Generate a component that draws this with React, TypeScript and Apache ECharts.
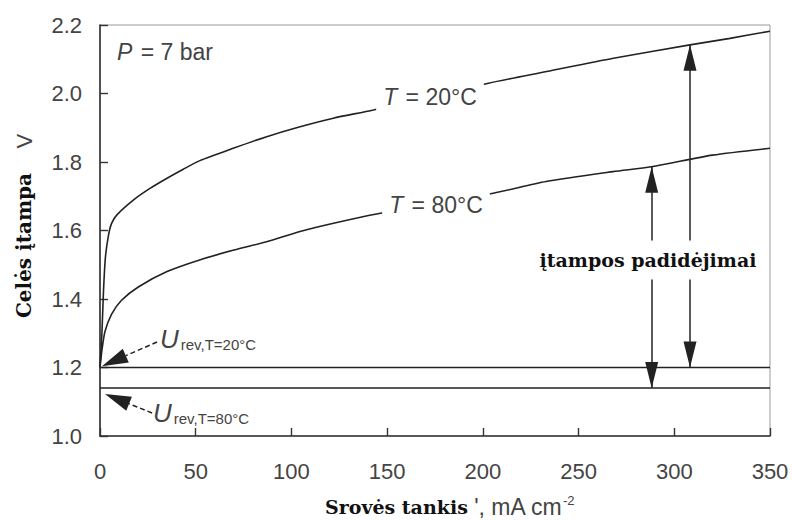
import React, { useEffect, useRef } from 'react';
import * as echarts from 'echarts';

// Current density (mA cm^-2) and cell voltage (V)
const currentDensity20 = [0, 1, 1.8, 2.8, 4.4, 6, 8.7, 17.4, 26.1, 34.8, 43.5, 52.2, 69.6, 87.1, 104.5, 121.9, 142.8, 202.9, 233.3, 268.2, 308.2, 329.1, 350];
const voltage20 = [1.2, 1.3, 1.42, 1.52, 1.585, 1.62, 1.645, 1.689, 1.723, 1.752, 1.779, 1.804, 1.84, 1.874, 1.903, 1.928, 1.952, 2.03, 2.064, 2.103, 2.142, 2.161, 2.182];
const currentDensity80 = [0, 1, 2.6, 6, 11, 20, 35, 52, 70, 87, 104.5, 122, 144.5, 205.5, 233, 268, 288, 320, 350];
const voltage80 = [1.2, 1.25, 1.305, 1.355, 1.395, 1.435, 1.48, 1.514, 1.543, 1.567, 1.597, 1.621, 1.648, 1.709, 1.743, 1.772, 1.786, 1.82, 1.84];

// Reversible voltages (V)
const reversibleVoltage = [1.2, 1.14];
const xRange = [0, 350];

// Overvoltage arrows: x position (mA cm^-2), top and bottom voltages
const arrowX = [308.2, 288.2];
const arrowTop = [2.142, 1.786];
const arrowBottom = [1.2, 1.14];

// Pointer arrows for U_rev labels: [tail, tip] in data units
const urev20Pointer = [[29.8, 1.2745], [1.04, 1.204]];
const urev80Pointer = [[27.2, 1.067], [2.6, 1.1226]];

const SANS = '"Liberation Sans", Arial, sans-serif';
const SERIF = '"DejaVu Serif", "Liberation Serif", serif';
const INK = '#222';
const GREY = '#444';

export default function App() {
  const ref = useRef<HTMLDivElement>(null);

  useEffect(() => {
    document.body.style.margin = '0';
    const chart = echarts.init(ref.current!, null, { renderer: 'svg' });

    const zip = (xs: number[], ys: number[]) => xs.map((x, i) => [x, ys[i]]);

    const bigArrow = { symbol: 'triangle', symbolSize: [13, 26], symbolOffset: [0, 13] };

    const sansRich = {
      i: { fontStyle: 'italic', fontSize: 23, fontFamily: SANS, fill: GREY, padding: [0, 2, 0, 0] },
      n: { fontSize: 23, fontFamily: SANS, fill: GREY },
    };

    const option: any = {
      animation: false,
      backgroundColor: '#fff',
      grid: {
        left: 100,
        right: 22,
        top: 25,
        bottom: 85,
        show: true,
        borderColor: '#999',
        borderWidth: 1,
      },
      xAxis: {
        type: 'value',
        min: 0,
        max: 350,
        interval: 50,
        axisLine: { show: true, lineStyle: { color: '#333', width: 1.6 } },
        axisTick: { show: true, inside: true, length: 8, lineStyle: { color: '#333', width: 1.4 } },
        axisLabel: { color: GREY, fontSize: 22, fontFamily: SANS, margin: 24 },
        splitLine: { show: false },
      },
      yAxis: {
        type: 'value',
        min: 1.0,
        max: 2.2,
        interval: 0.2,
        axisLine: { show: true, lineStyle: { color: '#333', width: 1.6 } },
        axisTick: { show: true, inside: true, length: 8, lineStyle: { color: '#333', width: 1.4 } },
        axisLabel: {
          color: GREY,
          fontSize: 22,
          fontFamily: SANS,
          margin: 18,
          formatter: (v: number) => v.toFixed(1),
        },
        splitLine: { show: false },
      },
      series: [
        {
          name: 'T = 20°C',
          type: 'line',
          data: zip(currentDensity20, voltage20),
          showSymbol: false,
          smooth: 0.25,
          lineStyle: { color: INK, width: 1.6 },
          z: 3,
        },
        {
          name: 'T = 80°C',
          type: 'line',
          data: zip(currentDensity80, voltage80),
          showSymbol: false,
          smooth: 0.25,
          lineStyle: { color: INK, width: 1.6 },
          z: 3,
        },
        {
          name: 'Urev20',
          type: 'line',
          data: xRange.map((x) => [x, reversibleVoltage[0]]),
          showSymbol: false,
          lineStyle: { color: INK, width: 1.5 },
          markLine: {
            silent: true,
            label: { show: false },
            lineStyle: { color: INK, width: 1.5, type: 'solid' },
            emphasis: { disabled: true },
            data: [
              [
                { coord: [arrowX[0], arrowTop[0]], ...bigArrow },
                { coord: [arrowX[0], arrowBottom[0]], ...bigArrow },
              ],
              [
                { coord: [arrowX[1], arrowTop[1]], ...bigArrow },
                { coord: [arrowX[1], arrowBottom[1]], ...bigArrow },
              ],
            ],
          },
        },
        {
          name: 'Urev80',
          type: 'line',
          data: xRange.map((x) => [x, reversibleVoltage[1]]),
          showSymbol: false,
          lineStyle: { color: INK, width: 1.5 },
        },
      ],
      graphic: [
        {
          id: 'p',
          type: 'text',
          x: 117,
          y: 52,
          z: 100,
          style: { text: '{i|P}{n| = 7 bar}', verticalAlign: 'middle', rich: sansRich },
        },
        {
          id: 't20',
          type: 'text',
          x: 430,
          y: 97,
          z: 100,
          style: {
            text: '{i|T}{n| = 20°C}',
            align: 'center',
            verticalAlign: 'middle',
            backgroundColor: '#fff',
            padding: [3, 7],
            rich: sansRich,
          },
        },
        {
          id: 't80',
          type: 'text',
          x: 436,
          y: 205,
          z: 100,
          style: {
            text: '{i|T}{n| = 80°C}',
            align: 'center',
            verticalAlign: 'middle',
            backgroundColor: '#fff',
            padding: [3, 7],
            rich: sansRich,
          },
        },
        {
          id: 'incr',
          type: 'text',
          x: 648,
          y: 260,
          z: 100,
          style: {
            text: 'įtampos padidėjimai',
            align: 'center',
            verticalAlign: 'middle',
            backgroundColor: '#fff',
            padding: [10, 2],
            fontSize: 19,
            fontWeight: 'bold',
            fontFamily: SERIF,
            fill: '#111',
          },
        },
        {
          id: 'u20',
          type: 'text',
          x: 160,
          y: 352,
          z: 100,
          style: {
            text: '{u|U}{s|rev,T=20°C}',
            verticalAlign: 'bottom',
            rich: {
              u: { fontStyle: 'italic', fontSize: 26, lineHeight: 26, verticalAlign: 'bottom', fontFamily: SANS, fill: GREY },
              s: { fontSize: 15, lineHeight: 15, verticalAlign: 'bottom', fontFamily: SANS, fill: GREY, padding: [0, 0, 0, 2] },
            },
          },
        },
        {
          id: 'u80',
          type: 'text',
          x: 153,
          y: 426,
          z: 100,
          style: {
            text: '{u|U}{s|rev,T=80°C}',
            verticalAlign: 'bottom',
            rich: {
              u: { fontStyle: 'italic', fontSize: 26, lineHeight: 26, verticalAlign: 'bottom', fontFamily: SANS, fill: GREY },
              s: { fontSize: 15, lineHeight: 15, verticalAlign: 'bottom', fontFamily: SANS, fill: GREY, padding: [0, 0, 0, 2] },
            },
          },
        },
        {
          id: 'yname',
          type: 'text',
          x: 24,
          y: 226,
          z: 100,
          rotation: Math.PI / 2,
          style: {
            text: '{b|Celės įtampa}{v|    V}',
            align: 'center',
            verticalAlign: 'middle',
            rich: {
              b: { fontSize: 20, fontWeight: 'bold', fontFamily: SERIF, fill: '#111' },
              v: { fontSize: 22, fontFamily: SANS, fill: GREY },
            },
          },
        },
        {
          id: 'xname',
          type: 'text',
          x: 325,
          y: 507,
          z: 100,
          style: {
            text: "{b|Srovės tankis}{n| ', mA cm}{s|-2}",
            verticalAlign: 'middle',
            rich: {
              b: { fontSize: 19, fontWeight: 'bold', fontFamily: SERIF, fill: '#111', lineHeight: 26 },
              n: { fontSize: 23, fontFamily: SANS, fill: GREY, lineHeight: 26 },
              s: { fontSize: 13, fontFamily: SANS, fill: GREY, verticalAlign: 'top', lineHeight: 26, padding: [0, 0, 12, 0] },
            },
          },
        },
      ],
    };

    chart.setOption(option);

    // Pointer arrows to the reversible-voltage lines, placed through the axes' scales
    const pointer = (id: string, tailData: number[], tipData: number[]) => {
      const tail = chart.convertToPixel({ gridIndex: 0 }, tailData) as number[];
      const tip = chart.convertToPixel({ gridIndex: 0 }, tipData) as number[];
      const dx = tail[0] - tip[0];
      const dy = tail[1] - tip[1];
      const len = Math.hypot(dx, dy);
      const ux = dx / len;
      const uy = dy / len;
      const headLen = 26;
      const headHalf = 7.5;
      const bx = tip[0] + ux * headLen;
      const by = tip[1] + uy * headLen;
      return [
        {
          id: id + '-line',
          type: 'line',
          z: 90,
          shape: { x1: tail[0], y1: tail[1], x2: bx, y2: by },
          style: { stroke: INK, lineWidth: 1.5, lineDash: [5, 3] },
        },
        {
          id: id + '-head',
          type: 'polygon',
          z: 90,
          shape: {
            points: [
              [tip[0], tip[1]],
              [bx - uy * headHalf, by + ux * headHalf],
              [bx + uy * headHalf, by - ux * headHalf],
            ],
          },
          style: { fill: INK },
        },
      ];
    };

    chart.setOption({
      graphic: [...pointer('pt20', urev20Pointer[0], urev20Pointer[1]), ...pointer('pt80', urev80Pointer[0], urev80Pointer[1])],
    });

    return () => chart.dispose();
  }, []);

  return (
    <div
      ref={ref}
      style={{ position: 'absolute', left: 0, top: 0, width: 792, height: 521 }}
    />
  );
}
